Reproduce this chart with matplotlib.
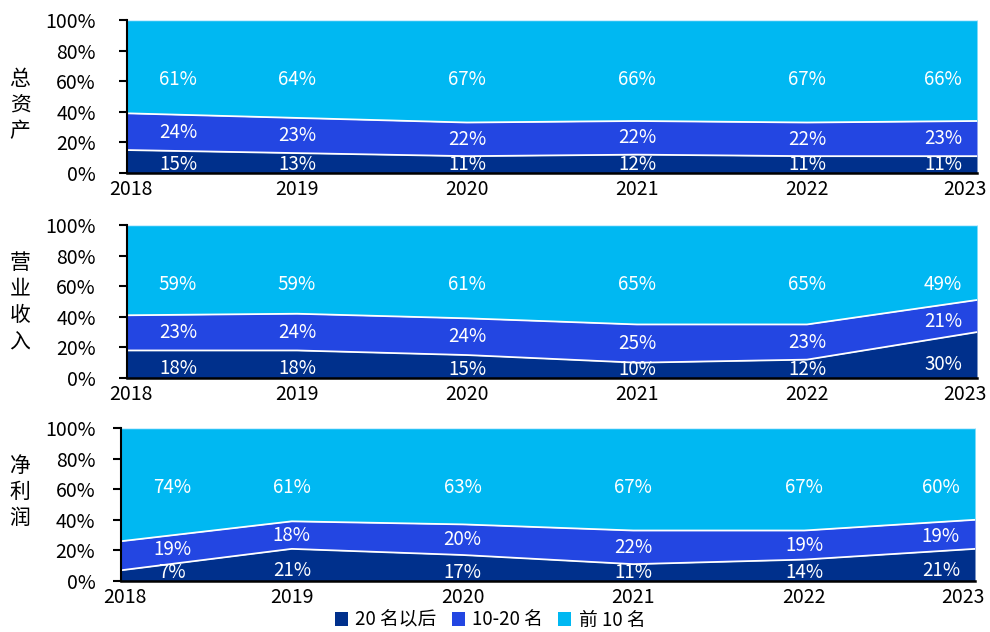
import matplotlib
matplotlib.use("Agg")
import matplotlib.pyplot as plt
import matplotlib.transforms as mtransforms
from matplotlib.patches import Patch
import numpy as np

plt.rcParams['font.family'] = ['Noto Sans CJK SC', 'DejaVu Sans']

years = ['2018', '2019', '2020', '2021', '2022', '2023']
panel_titles = ['总\n资\n产', '营\n业\n收\n入', '净\n利\n润']
series_names = ['20 名以后', '10-20 名', '前 10 名']

# total assets
assets_after20 = [15, 13, 11, 12, 11, 11]
assets_10_20 = [24, 23, 22, 22, 22, 23]
assets_top10 = [61, 64, 67, 66, 67, 66]
# revenue
revenue_after20 = [18, 18, 15, 10, 12, 30]
revenue_10_20 = [23, 24, 24, 25, 23, 21]
revenue_top10 = [59, 59, 61, 65, 65, 49]
# net profit
profit_after20 = [7, 21, 17, 11, 14, 21]
profit_10_20 = [19, 18, 20, 22, 19, 19]
profit_top10 = [74, 61, 63, 67, 67, 60]

panels = [
    (assets_after20, assets_10_20, assets_top10),
    (revenue_after20, revenue_10_20, revenue_top10),
    (profit_after20, profit_10_20, profit_top10),
]

colors = ['#00308C', '#2346E2', '#00B8F2']

W, H = 990, 632
fig = plt.figure(figsize=(W / 100, H / 100), dpi=100)

# axes boxes in pixels: left, top, right, bottom
boxes = [(127, 20, 977, 173), (127, 225, 977, 378), (121, 428, 975, 581)]
title_y = [105, 302, 492]
ylabel_pad = [16.5, 16.5, 12.5]

x = np.arange(len(years))
label_x = x.astype(float).copy()
label_x[0] = 0.3
label_x[-1] = 4.8

for (l, t, r, b), data, title, ty, yp in zip(boxes, panels, panel_titles, title_y, ylabel_pad):
    ax = fig.add_axes([l / W, 1 - b / H, (r - l) / W, (b - t) / H])
    a20, a1020, atop = [np.array(d, dtype=float) for d in data]
    s1 = a20
    s2 = a20 + a1020
    s3 = np.full_like(s2, 100.0)
    ax.fill_between(x, 0, s1, color=colors[0], lw=0)
    ax.fill_between(x, s1, s2, color=colors[1], lw=0)
    ax.fill_between(x, s2, s3, color=colors[2], lw=0)
    ax.plot(x, s1, color='white', lw=1.3)
    ax.plot(x, s2, color='white', lw=1.3)
    ax.plot(x, s3, color='#cfefff', lw=1.0)

    # labels
    b1 = np.interp(label_x, x, s1)
    b2 = np.interp(label_x, x, s2)
    for i in range(len(years)):
        yb = max(5.5, 0.34 * b1[i])
        ym = (b1[i] + b2[i]) / 2
        ax.text(label_x[i], yb, f'{int(a20[i])}%', color='white', ha='center', va='center', fontsize=13.5)
        ax.text(label_x[i], ym, f'{int(a1020[i])}%', color='white', ha='center', va='center', fontsize=13.5)
        ax.text(label_x[i], 61, f'{int(atop[i])}%', color='white', ha='center', va='center', fontsize=13.5)

    ax.set_xlim(0, 5)
    ax.set_ylim(0, 100)
    ax.set_yticks([0, 20, 40, 60, 80, 100])
    ax.set_yticklabels([f'{v}%' for v in [0, 20, 40, 60, 80, 100]], fontsize=14)
    ax.set_xticks(x)
    ax.set_xticklabels(years, fontsize=14)
    ax.tick_params(axis='x', length=0, pad=4)
    ax.tick_params(axis='y', length=6, width=1.5, pad=yp, direction='out')
    for s in ['top', 'right']:
        ax.spines[s].set_visible(False)
    ax.spines['left'].set_linewidth(1.5)
    ax.spines['bottom'].set_linewidth(1.8)
    labels = ax.get_xticklabels()
    labels[0].set_transform(labels[0].get_transform() + mtransforms.ScaledTranslation(4 / 100, 0, fig.dpi_scale_trans))
    labels[-1].set_transform(labels[-1].get_transform() + mtransforms.ScaledTranslation(-12 / 100, 0, fig.dpi_scale_trans))

    fig.text(20 / W, 1 - ty / H, title, ha='center', va='center', fontsize=15, linespacing=1.25)

handles = [Patch(facecolor=c, edgecolor='none') for c in colors]
fig.legend(handles, series_names, loc='center', bbox_to_anchor=(0.495, 1 - 620 / H), ncol=3, frameon=False,
           fontsize=13.5, handlelength=0.7, handleheight=0.7, handletextpad=0.4, columnspacing=0.8,
           borderpad=0.1)

fig.savefig('out.png', dpi=100)
